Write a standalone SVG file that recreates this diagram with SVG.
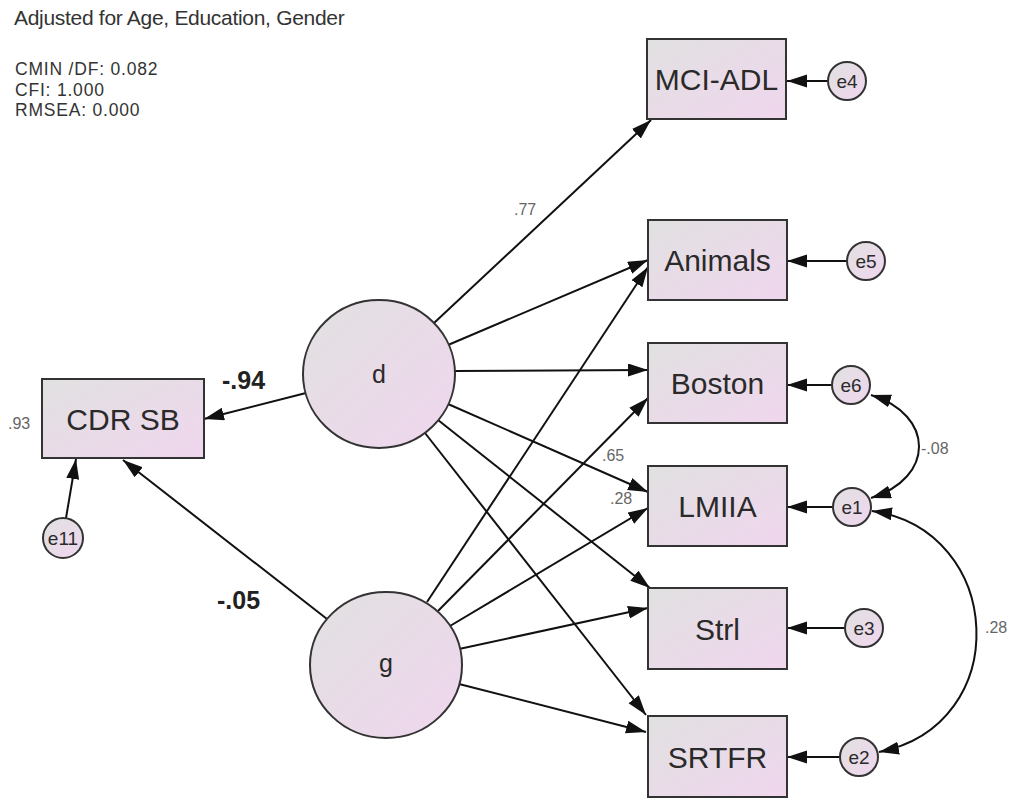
<svg xmlns="http://www.w3.org/2000/svg" width="1010" height="802" viewBox="0 0 1010 802">
<defs>
<linearGradient id="fill" x1="0" y1="0" x2="1" y2="1">
<stop offset="0" stop-color="#e1e1e1"/>
<stop offset="1" stop-color="#f0d6ee"/>
</linearGradient>
<marker id="ah" markerUnits="userSpaceOnUse" markerWidth="22" markerHeight="14" refX="20" refY="6.5" orient="auto-start-reverse">
<path d="M0,0 L20,6.5 L0,13 z" fill="#111"/>
</marker>
<style>
.box{fill:url(#fill);stroke:#333;stroke-width:2}
.lat{fill:url(#fill);stroke:#333;stroke-width:2}
.err{fill:url(#fill);stroke:#333;stroke-width:2}
.lbl{font-family:"Liberation Sans",Arial,sans-serif;font-size:30px;fill:#2a2a2a;text-anchor:middle}
.elbl{font-family:"Liberation Sans",Arial,sans-serif;font-size:19px;fill:#2a2a2a;text-anchor:middle}
.latlbl{font-family:"Liberation Sans",Arial,sans-serif;font-size:25px;fill:#2a2a2a;text-anchor:middle}
.num{font-family:"Liberation Sans",Arial,sans-serif;font-size:16px;fill:#666}
.bnum{font-family:"Liberation Sans",Arial,sans-serif;font-size:25px;font-weight:bold;fill:#222}
.info{font-family:"Liberation Sans",Arial,sans-serif;font-size:17.5px;letter-spacing:0.8px;fill:#333}
.c line,.c path{stroke:#111;stroke-width:2;fill:none;marker-end:url(#ah)}
.c path.cov{marker-start:url(#ah)}
</style>
</defs>
<rect width="1010" height="802" fill="#fff"/>

<g id="info">
<text class="info" x="14" y="25" style="font-size:21px;letter-spacing:-0.3px">Adjusted for Age, Education, Gender</text>
<text class="info" x="15" y="75">CMIN /DF: 0.082</text>
<text class="info" x="15" y="95.5">CFI: 1.000</text>
<text class="info" x="15" y="116">RMSEA: 0.000</text>
</g>

<g id="connectors" class="c">
<line x1="434" y1="323" x2="651" y2="120"/>
<line x1="448" y1="345" x2="648" y2="260"/>
<line x1="455" y1="371" x2="648" y2="370"/>
<line x1="448" y1="404" x2="648" y2="492"/>
<line x1="438" y1="420" x2="650" y2="588"/>
<line x1="425" y1="433" x2="646" y2="715"/>
<line x1="306" y1="393" x2="204" y2="419"/>
<line x1="427" y1="602" x2="648" y2="267"/>
<line x1="438" y1="611" x2="648" y2="398"/>
<line x1="450" y1="626" x2="648" y2="508"/>
<line x1="459" y1="649" x2="648" y2="608"/>
<line x1="459" y1="684" x2="646" y2="732"/>
<line x1="327" y1="619" x2="123" y2="460"/>
<line x1="828" y1="81" x2="787" y2="81"/>
<line x1="847" y1="261" x2="787" y2="261"/>
<line x1="832" y1="385" x2="787" y2="385"/>
<line x1="833" y1="507" x2="787" y2="507"/>
<line x1="845" y1="628" x2="787" y2="628"/>
<line x1="840" y1="757" x2="787" y2="757"/>
<line x1="66" y1="518" x2="76" y2="459"/>
<path class="cov" d="M871 395 C935 415 935 478 871 498"/>
<path class="cov" d="M872 511 C1005 530 1015 725 879 752"/>
</g>

<g id="lbl-paths">
<text class="num" x="514" y="215">.77</text>
<text class="num" x="602" y="461">.65</text>
<text class="num" x="610" y="504">.28</text>
<text class="num" x="921" y="454">-.08</text>
<text class="num" x="985" y="633">.28</text>
<text class="num" x="8" y="429">.93</text>
<text class="bnum" x="222" y="389">-.94</text>
<text class="bnum" x="217" y="609">-.05</text>
</g>

<g id="n-mciadl"><rect class="box" x="647" y="39" width="139" height="80"/><text class="lbl" x="716.5" y="90">MCI-ADL</text></g>
<g id="n-animals"><rect class="box" x="648" y="220" width="139" height="80"/><text class="lbl" x="717.5" y="271">Animals</text></g>
<g id="n-boston"><rect class="box" x="648" y="343" width="139" height="80"/><text class="lbl" x="717.5" y="394">Boston</text></g>
<g id="n-lmiia"><rect class="box" x="648" y="466" width="139" height="80"/><text class="lbl" x="717.5" y="517">LMIIA</text></g>
<g id="n-strl"><rect class="box" x="648" y="588" width="139" height="81"/><text class="lbl" x="717.5" y="639.5">Strl</text></g>
<g id="n-srtfr"><rect class="box" x="648" y="716" width="139" height="81"/><text class="lbl" x="717.5" y="767.5">SRTFR</text></g>
<g id="n-cdrsb"><rect class="box" x="42" y="379" width="162" height="79"/><text class="lbl" x="123" y="429.5">CDR SB</text></g>

<g id="n-d"><ellipse class="lat" cx="379" cy="374" rx="76" ry="74"/><text class="latlbl" x="379" y="383">d</text></g>
<g id="n-g"><ellipse class="lat" cx="386" cy="665" rx="76" ry="73"/><text class="latlbl" x="386" y="672">g</text></g>

<g id="n-e4"><circle class="err" cx="847" cy="81" r="19"/><text class="elbl" x="847" y="88">e4</text></g>
<g id="n-e5"><circle class="err" cx="866" cy="261" r="19"/><text class="elbl" x="866" y="268">e5</text></g>
<g id="n-e6"><circle class="err" cx="851" cy="385" r="19"/><text class="elbl" x="851" y="392">e6</text></g>
<g id="n-e1"><circle class="err" cx="852" cy="507" r="19"/><text class="elbl" x="852" y="514">e1</text></g>
<g id="n-e3"><circle class="err" cx="864" cy="628" r="19"/><text class="elbl" x="864" y="635">e3</text></g>
<g id="n-e2"><circle class="err" cx="859" cy="757" r="19"/><text class="elbl" x="859" y="764">e2</text></g>
<g id="n-e11"><circle class="err" cx="63" cy="538" r="20"/><text class="elbl" x="63" y="545">e11</text></g>
</svg>
